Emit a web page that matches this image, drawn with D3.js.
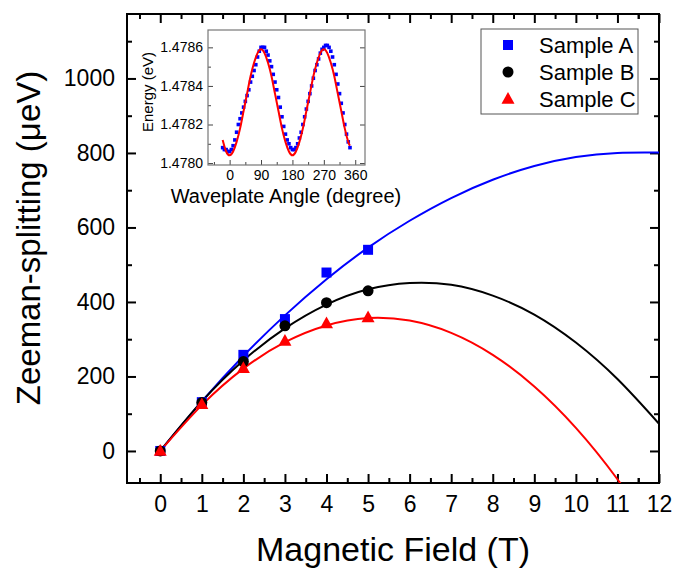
<!DOCTYPE html>
<html lang="en">
<head>
  <meta charset="UTF-8">
  <title>Zeeman splitting vs magnetic field</title>
  <script src="https://d3js.org/d3.v7.min.js"></script>
  <style>
    body {
      margin: 0;
      background: #ffffff;
      font-family: Arial, "Liberation Sans", sans-serif;
    }
    svg {
      display: block;
      background: #ffffff;
    }
    .axis path { display: none; }
    .axis line { stroke: #000; stroke-width: 2; }
    .axis text { font-size: 23px; fill: #000; font-family: Arial, "Liberation Sans", sans-serif; }
    .inset-axis path { display: none; }
    .inset-axis line { stroke: #444; stroke-width: 1; }
    .inset-axis text { fill: #000; font-family: Arial, "Liberation Sans", sans-serif; }
    .fit { fill: none; stroke-width: 2; }
    .title { font-size: 34px; fill: #000; }
  </style>
</head>
<body>
  <svg width="675" height="569"></svg>

  <script>
    const width = 675;
    const height = 569;

    // Main plot: measured points
    const fieldPoints = [0, 1, 2, 3, 4, 5];
    const sampleA = [0, 131, 258, 354, 479, 540];
    const sampleB = [0, 130, 240, 336, 398, 430];
    const sampleC = [0, 125, 222, 295, 342, 358];

    // Main plot: fitted curves
    const fitField = [0, 1, 2, 3, 4, 5, 6, 7, 8, 9, 10, 11, 12];
    const fitA = [0, 133, 255, 364, 461, 546, 618, 679, 728, 765, 789, 800, 801];
    const fitB = [0, 133, 243, 329, 393, 434, 451, 446, 417, 366, 291, 193, 73];
    const fitC = [0, 123, 221, 292, 337, 357, 350, 317, 258, 173, 62, -76, -238];

    const xTicks = [0, 1, 2, 3, 4, 5, 6, 7, 8, 9, 10, 11, 12];
    const yTicks = [0, 200, 400, 600, 800, 1000];

    // Inset: energy vs waveplate angle
    const insetAngle = [-20, -15, -10, -5, 0, 5, 10, 15, 20, 25, 30, 35, 40, 45, 50, 55, 60, 65, 70, 75,
      80, 85, 90, 95, 100, 105, 110, 115, 120, 125, 130, 135, 140, 145, 150, 155, 160, 165, 170, 175,
      180, 185, 190, 195, 200, 205, 210, 215, 220, 225, 230, 235, 240, 245, 250, 255, 260, 265, 270, 275,
      280, 285, 290, 295, 300, 305, 310, 315, 320, 325, 330, 335, 340, 345];
    const insetEnergy = [1.47808, 1.47807, 1.47807, 1.47806, 1.47806, 1.47807, 1.47809, 1.47812, 1.47816, 1.47820,
      1.47823, 1.47826, 1.47829, 1.47832, 1.47835, 1.47838, 1.47842, 1.47845, 1.47848, 1.47851,
      1.47855, 1.47858, 1.47860, 1.47860, 1.47860, 1.47858, 1.47856, 1.47853, 1.47850, 1.47846,
      1.47842, 1.47838, 1.47834, 1.47829, 1.47824, 1.47819, 1.47815, 1.47812, 1.47810, 1.47808,
      1.47807, 1.47807, 1.47808, 1.47810, 1.47813, 1.47816, 1.47820, 1.47824, 1.47828, 1.47832,
      1.47836, 1.47840, 1.47844, 1.47848, 1.47851, 1.47854, 1.47857, 1.47859, 1.47860, 1.47861,
      1.47861, 1.47860, 1.47858, 1.47855, 1.47851, 1.47846, 1.47841, 1.47836, 1.47831, 1.47826,
      1.47820, 1.47815, 1.47811, 1.47808];
    const insetFitAngle = [-20, -10, 0, 10, 20, 30, 40, 50, 60, 70, 80, 90, 100, 110, 120, 130, 140, 150, 160, 170,
      180, 190, 200, 210, 220, 230, 240, 250, 260, 270, 280, 290, 300, 310, 320, 330, 340, 345];
    const insetFitEnergy = [1.47812, 1.47806, 1.47804, 1.47806, 1.47811, 1.47818, 1.47827, 1.47836, 1.47845, 1.47852,
      1.47857, 1.47859, 1.47857, 1.47852, 1.47845, 1.47836, 1.47827, 1.47818, 1.47811, 1.47806,
      1.47804, 1.47806, 1.47811, 1.47818, 1.47827, 1.47836, 1.47845, 1.47852, 1.47857, 1.47859,
      1.47857, 1.47852, 1.47845, 1.47836, 1.47827, 1.47818, 1.47811, 1.47809];
    const insetXTicks = [0, 90, 180, 270, 360];
    const insetYTicks = [1.4780, 1.4782, 1.4784, 1.4786];

    const legendItems = [
      { label: "Sample A", shape: "square", color: "#0000ff" },
      { label: "Sample B", shape: "circle", color: "#000000" },
      { label: "Sample C", shape: "triangle", color: "#ff0000" }
    ];

    const svg = d3.select("svg");

    // Frame of the main plot
    const plot = { left: 127, right: 659, top: 14, bottom: 483 };

    const xScale = d3.scaleLinear().domain([-0.8, 12]).range([plot.left, plot.right]);
    const yScale = d3.scaleLinear().domain([-86, 1173]).range([plot.bottom, plot.top]);

    svg.append("clipPath").attr("id", "plot-clip")
      .append("rect")
      .attr("x", plot.left).attr("y", plot.top)
      .attr("width", plot.right - plot.left).attr("height", plot.bottom - plot.top);

    // Minor tick values
    const xMinor = xTicks.map(d => d - 0.5).concat([11.5]).filter(d => d > -0.8);
    const yMinor = yTicks.map(d => d + 100);

    // Bottom axis
    svg.append("g").attr("class", "axis")
      .attr("transform", `translate(0,${plot.bottom})`)
      .call(d3.axisBottom(xScale).tickValues(xTicks).tickSize(-9).tickSizeOuter(0).tickPadding(13));
    svg.append("g").attr("class", "axis")
      .attr("transform", `translate(0,${plot.bottom})`)
      .call(d3.axisBottom(xScale).tickValues(xMinor).tickSize(-5).tickSizeOuter(0).tickFormat(""));
    // Top axis (mirror)
    svg.append("g").attr("class", "axis")
      .attr("transform", `translate(0,${plot.top})`)
      .call(d3.axisTop(xScale).tickValues(xTicks).tickSize(-9).tickSizeOuter(0).tickFormat(""));
    svg.append("g").attr("class", "axis")
      .attr("transform", `translate(0,${plot.top})`)
      .call(d3.axisTop(xScale).tickValues(xMinor).tickSize(-5).tickSizeOuter(0).tickFormat(""));
    // Left axis
    svg.append("g").attr("class", "axis")
      .attr("transform", `translate(${plot.left},0)`)
      .call(d3.axisLeft(yScale).tickValues(yTicks).tickSize(-9).tickSizeOuter(0).tickPadding(12)
        .tickFormat(d3.format("d")));
    svg.append("g").attr("class", "axis")
      .attr("transform", `translate(${plot.left},0)`)
      .call(d3.axisLeft(yScale).tickValues(yMinor).tickSize(-5).tickSizeOuter(0).tickFormat(""));
    // Right axis (mirror)
    svg.append("g").attr("class", "axis")
      .attr("transform", `translate(${plot.right},0)`)
      .call(d3.axisRight(yScale).tickValues(yTicks).tickSize(-9).tickSizeOuter(0).tickFormat(""));
    svg.append("g").attr("class", "axis")
      .attr("transform", `translate(${plot.right},0)`)
      .call(d3.axisRight(yScale).tickValues(yMinor).tickSize(-5).tickSizeOuter(0).tickFormat(""));

    svg.append("rect")
      .attr("x", plot.left).attr("y", plot.top)
      .attr("width", plot.right - plot.left).attr("height", plot.bottom - plot.top)
      .attr("fill", "none").attr("stroke", "#000").attr("stroke-width", 2);

    // Fitted curves
    const fitLine = d3.line()
      .x(d => xScale(d[0]))
      .y(d => yScale(d[1]))
      .curve(d3.curveNatural);

    const fits = [
      { values: fitA, color: "#0000ff" },
      { values: fitB, color: "#000000" },
      { values: fitC, color: "#ff0000" }
    ];
    svg.append("g").attr("clip-path", "url(#plot-clip)")
      .selectAll("path")
      .data(fits)
      .join("path")
      .attr("class", "fit")
      .attr("stroke", d => d.color)
      .attr("d", d => fitLine(fitField.map((f, i) => [f, d.values[i]])));

    // Marker helper
    function drawMarker(g, shape, color, cx, cy, size) {
      if (shape === "square") {
        g.append("rect")
          .attr("x", cx - size / 2).attr("y", cy - size / 2)
          .attr("width", size).attr("height", size)
          .attr("fill", color);
      } else if (shape === "circle") {
        g.append("circle")
          .attr("cx", cx).attr("cy", cy).attr("r", size / 2)
          .attr("fill", color);
      } else {
        const h = size * 0.9;
        g.append("path")
          .attr("d", `M${cx},${cy - h * 0.6}L${cx + size / 2},${cy + h * 0.4}L${cx - size / 2},${cy + h * 0.4}Z`)
          .attr("fill", color);
      }
    }

    const samples = [
      { values: sampleA, shape: "square", color: "#0000ff", size: 10 },
      { values: sampleB, shape: "circle", color: "#000000", size: 11 },
      { values: sampleC, shape: "triangle", color: "#ff0000", size: 13 }
    ];
    const markers = svg.append("g");
    samples.forEach(s => {
      fieldPoints.forEach((f, i) => {
        drawMarker(markers, s.shape, s.color, xScale(f), yScale(s.values[i]), s.size);
      });
    });

    // Axis titles
    svg.append("text")
      .attr("class", "title")
      .attr("x", (plot.left + plot.right) / 2)
      .attr("y", 561)
      .attr("text-anchor", "middle")
      .text("Magnetic Field (T)");

    svg.append("text")
      .attr("class", "title")
      .attr("transform", "translate(40,238) rotate(-90)")
      .attr("text-anchor", "middle")
      .style("font-size", "33px")
      .text("Zeeman-splitting (\u03BCeV)");

    // Legend
    const legend = svg.append("g");
    legend.append("rect")
      .attr("x", 481).attr("y", 29).attr("width", 157).attr("height", 85)
      .attr("fill", "#fff").attr("stroke", "#555").attr("stroke-width", 1);
    legendItems.forEach((d, i) => {
      const cy = 45 + i * 27;
      drawMarker(legend, d.shape, d.color, 508, cy, d.shape === "triangle" ? 13 : (d.shape === "circle" ? 11 : 10));
      legend.append("text")
        .attr("x", 539).attr("y", cy + 8)
        .style("font-size", "22px")
        .text(d.label);
    });

    // Inset
    const inset = { left: 208, right: 365, top: 30, bottom: 165 };
    const xi = d3.scaleLinear().domain([-62, 388]).range([inset.left, inset.right]);
    const yi = d3.scaleLinear().domain([1.47799, 1.47869]).range([inset.bottom, inset.top]);

    const ig = svg.append("g");
    ig.append("rect")
      .attr("x", inset.left).attr("y", inset.top)
      .attr("width", inset.right - inset.left).attr("height", inset.bottom - inset.top)
      .attr("fill", "#fff");

    const insetXMinor = [-45, 45, 135, 225, 315];
    const insetYMinor = [1.4781, 1.4783, 1.4785];

    ig.append("g").attr("class", "inset-axis")
      .attr("transform", `translate(0,${inset.bottom})`)
      .call(d3.axisBottom(xi).tickValues(insetXTicks).tickSize(-5).tickSizeOuter(0).tickPadding(5))
      .call(g => g.selectAll("text").style("font-size", "14px"));
    ig.append("g").attr("class", "inset-axis")
      .attr("transform", `translate(0,${inset.bottom})`)
      .call(d3.axisBottom(xi).tickValues(insetXMinor).tickSize(-3).tickSizeOuter(0).tickFormat(""));
    ig.append("g").attr("class", "inset-axis")
      .attr("transform", `translate(${inset.left},0)`)
      .call(d3.axisLeft(yi).tickValues(insetYTicks).tickSize(-5).tickSizeOuter(0).tickPadding(5)
        .tickFormat(d3.format(".4f")))
      .call(g => g.selectAll("text").style("font-size", "14px"));
    ig.append("g").attr("class", "inset-axis")
      .attr("transform", `translate(${inset.left},0)`)
      .call(d3.axisLeft(yi).tickValues(insetYMinor).tickSize(-3).tickSizeOuter(0).tickFormat(""));
    ig.append("g").attr("class", "inset-axis")
      .attr("transform", `translate(${inset.right},0)`)
      .call(d3.axisRight(yi).tickValues(insetYTicks).tickSize(-5).tickSizeOuter(0).tickFormat(""));

    ig.append("rect")
      .attr("x", inset.left).attr("y", inset.top)
      .attr("width", inset.right - inset.left).attr("height", inset.bottom - inset.top)
      .attr("fill", "none").attr("stroke", "#777").attr("stroke-width", 1.2);

    ig.append("g")
      .selectAll("rect")
      .data(insetAngle.map((a, i) => [a, insetEnergy[i]]))
      .join("rect")
      .attr("x", d => xi(d[0]) - 1.8)
      .attr("y", d => yi(d[1]) - 1.8)
      .attr("width", 3.6).attr("height", 3.6)
      .attr("fill", "#0000ff");

    const insetLine = d3.line()
      .x(d => xi(d[0]))
      .y(d => yi(d[1]))
      .curve(d3.curveNatural);
    ig.append("path")
      .attr("class", "fit")
      .attr("stroke", "#ff0000")
      .attr("d", insetLine(insetFitAngle.map((a, i) => [a, insetFitEnergy[i]])));

    ig.append("text")
      .attr("transform", "translate(153,92) rotate(-90)")
      .attr("text-anchor", "middle")
      .style("font-size", "15px")
      .text("Energy (eV)");

    ig.append("text")
      .attr("x", 286).attr("y", 203)
      .attr("text-anchor", "middle")
      .style("font-size", "20px")
      .text("Waveplate Angle (degree)");
  </script>
</body>
</html>
